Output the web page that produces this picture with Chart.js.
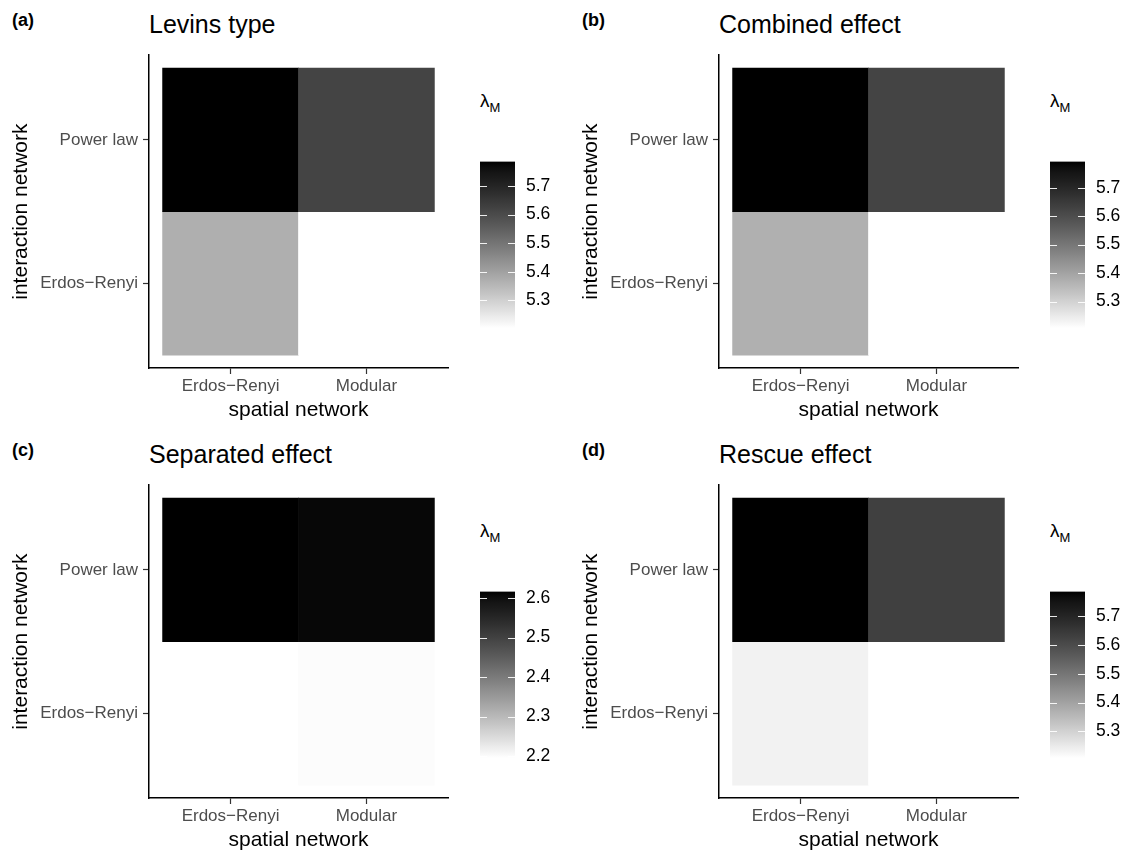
<!DOCTYPE html>
<html>
<head>
<meta charset="utf-8">
<script src="https://cdn.jsdelivr.net/npm/chart.js@4.4.1/dist/chart.umd.min.js"></script>
<style>
  body { margin: 0; background: #fff; font-family: 'Liberation Sans', Arial, sans-serif; }
  #page { position: relative; width: 1125px; height: 850px; overflow: hidden; background: #fff; }
  .tag { position: absolute; font-weight: bold; font-size: 18px; line-height: 18px; color: #000; }
  .title { position: absolute; font-size: 25px; line-height: 25px; color: #000; white-space: nowrap; }
  .lgd { position: absolute; font-size: 19px; line-height: 19px; color: #000; white-space: nowrap; }
  .lgd span { font-size: 13px; vertical-align: -5px; }
  canvas { position: absolute; }
</style>
</head>
<body>
<div id="page"></div>
<script>
// Categories
const spatialNetworks = ['Erdos−Renyi', 'Modular']          // x axis
const interactionNetworks = ['Erdos−Renyi', 'Power law']    // y axis, bottom to top

const panelTags = ['(a)', '(b)', '(c)', '(d)']
const panelTitles = ['Levins type', 'Combined effect', 'Separated effect', 'Rescue effect']

// lambda_M values, one array per interaction network row (columns follow spatialNetworks)
const levinsErdos = [5.369, 5.204]
const levinsPower = [5.785, 5.617]
const combinedErdos = [5.372, 5.207]
const combinedPower = [5.792, 5.623]
const separatedErdos = [2.195, 2.199]
const separatedPower = [2.617, 2.609]
const rescueErdos = [5.234, 5.208]
const rescuePower = [5.785, 5.629]

// Colour bar tick labels
const legendTicksHigh = [5.3, 5.4, 5.5, 5.6, 5.7]
const legendTicksLow = [2.2, 2.3, 2.4, 2.5, 2.6]

const panelRows = [
    [levinsErdos, levinsPower],
    [combinedErdos, combinedPower],
    [separatedErdos, separatedPower],
    [rescueErdos, rescuePower]
]
const panelLegendTicks = [legendTicksHigh, legendTicksHigh, legendTicksLow, legendTicksHigh]
const panelOffsets = [[0, 0], [570, 0], [0, 430], [570, 430]]

Chart.defaults.font.family = "'Liberation Sans', Arial, sans-serif"

// white -> black gradient, linear in CIE L*
const grayFor = (v, lo, hi) => {
    const t = hi > lo ? (v - lo) / (hi - lo) : 0
    const L = 100 * (1 - t)
    const Y = L > 8 ? Math.pow((L + 16) / 116, 3) : L / 903.3
    const s = Y <= 0.0031308 ? 12.92 * Y : 1.055 * Math.pow(Y, 1 / 2.4) - 0.055
    const g = Math.round(255 * Math.min(1, Math.max(0, s)))
    return `rgb(${g},${g},${g})`
}

const page = document.getElementById('page')

const addBox = (cls, left, top, html) => {
    const el = document.createElement('div')
    el.className = cls
    el.style.left = left + 'px'
    el.style.top = top + 'px'
    el.innerHTML = html
    page.appendChild(el)
    return el
}

const addCanvas = (left, top, w, h) => {
    const c = document.createElement('canvas')
    c.width = w
    c.height = h
    c.style.left = left + 'px'
    c.style.top = top + 'px'
    c.style.width = w + 'px'
    c.style.height = h + 'px'
    page.appendChild(c)
    return c
}

const axisTicks = { drawOnChartArea: false, offset: false, tickLength: 6, tickColor: '#333', tickWidth: 1.2 }
const axisBorder = { display: true, color: '#000', width: 1.5 }

//Heatmap: one floating bar per tile
const createHeatmap = (canvas, rows) => {
    const all = rows.flat()
    const lo = Math.min(...all)
    const hi = Math.max(...all)
    const points = []
    const colors = []
    rows.forEach((row, j) => {
        row.forEach((v, i) => {
            points.push({ x: i + 0.5, y: [j, j + 1] })
            colors.push(grayFor(v, lo, hi))
        })
    })
    new Chart(canvas, {
        type: 'bar',
        data: {
            datasets: [{
                data: points,
                backgroundColor: colors,
                borderWidth: 0,
                barPercentage: 1,
                categoryPercentage: 1
            }]
        },
        options: {
            responsive: false,
            animation: false,
            layout: { padding: { left: 0, right: 12, top: 11, bottom: 0 } },
            plugins: { legend: { display: false }, tooltip: { enabled: false } },
            scales: {
                x: {
                    type: 'linear',
                    offset: false,
                    min: -0.1,
                    max: 2.1,
                    afterBuildTicks: s => { s.ticks = spatialNetworks.map((_, i) => ({ value: i + 0.5 })) },
                    afterFit: s => { s.height = 57 },
                    ticks: {
                        callback: v => spatialNetworks[Math.floor(v)],
                        color: '#4d4d4d',
                        font: { size: 17 },
                        padding: 2,
                        maxRotation: 0,
                        autoSkip: false
                    },
                    grid: axisTicks,
                    border: axisBorder,
                    title: {
                        display: true,
                        text: 'spatial network',
                        color: '#000',
                        font: { size: 21 },
                        padding: { top: 0, bottom: 2.4 }
                    }
                },
                y: {
                    type: 'linear',
                    min: -0.09,
                    max: 2.09,
                    afterBuildTicks: s => { s.ticks = interactionNetworks.map((_, j) => ({ value: j + 0.5 })) },
                    afterFit: s => { s.width = 149 },
                    ticks: {
                        callback: v => interactionNetworks[Math.floor(v)],
                        color: '#4d4d4d',
                        font: { size: 17 },
                        padding: 5,
                        autoSkip: false
                    },
                    grid: axisTicks,
                    border: axisBorder,
                    title: {
                        display: true,
                        text: 'interaction network',
                        color: '#000',
                        font: { size: 21 },
                        padding: { top: 8.4, bottom: 0 }
                    }
                }
            }
        }
    })
}

// white tick marks on both edges of the colour bar
const colorbarTicks = {
    id: 'colorbarTicks',
    afterDatasetsDraw(chart) {
        const { ctx, chartArea: a, scales: { y } } = chart
        const len = (a.right - a.left) / 5
        ctx.save()
        ctx.strokeStyle = 'rgba(255,255,255,0.9)'
        ctx.lineWidth = 1.2
        y.ticks.forEach(t => {
            const py = Math.round(y.getPixelForValue(t.value)) + 0.5
            ctx.beginPath()
            ctx.moveTo(a.left, py)
            ctx.lineTo(a.left + len, py)
            ctx.moveTo(a.right - len, py)
            ctx.lineTo(a.right, py)
            ctx.stroke()
        })
        ctx.restore()
    }
}

//Colour bar legend
const createColorbar = (canvas, rows, ticks) => {
    const all = rows.flat()
    const lo = Math.min(...all)
    const hi = Math.max(...all)
    new Chart(canvas, {
        type: 'bar',
        data: {
            labels: ['λM'],
            datasets: [{
                data: [[lo, hi]],
                backgroundColor: ctx => {
                    const chart = ctx.chart
                    if (!chart.chartArea) return '#888'
                    const y = chart.scales.y
                    const g = chart.ctx.createLinearGradient(0, y.getPixelForValue(lo), 0, y.getPixelForValue(hi))
                    for (let k = 0; k <= 30; k++) {
                        g.addColorStop(k / 30, grayFor(lo + (hi - lo) * k / 30, lo, hi))
                    }
                    return g
                },
                borderWidth: 0,
                barPercentage: 1,
                categoryPercentage: 1
            }]
        },
        options: {
            responsive: false,
            animation: false,
            layout: { padding: { left: 10, right: 0, top: 18, bottom: 22 } },
            plugins: { legend: { display: false }, tooltip: { enabled: false } },
            scales: {
                x: { display: false },
                y: {
                    position: 'right',
                    min: lo,
                    max: hi,
                    afterBuildTicks: s => { s.ticks = ticks.map(v => ({ value: v })) },
                    afterFit: s => { s.width = 45 },
                    ticks: {
                        callback: v => v.toFixed(1),
                        color: '#000',
                        font: { size: 17.5 },
                        padding: 11
                    },
                    grid: { display: false, drawTicks: false },
                    border: { display: false }
                }
            }
        },
        plugins: [colorbarTicks]
    })
}

panelOffsets.forEach(([ox, oy], p) => {
    addBox('tag', ox + 12, oy + 11, panelTags[p])
    addBox('title', ox + 149, oy + 12, panelTitles[p])
    addBox('lgd', ox + 480, oy + 91, 'λ<span>M</span>')
    createHeatmap(addCanvas(ox, oy + 40, 460, 385), panelRows[p])
    createColorbar(addCanvas(ox + 470, oy + 140, 90, 210), panelRows[p], panelLegendTicks[p])
})
</script>
</body>
</html>
